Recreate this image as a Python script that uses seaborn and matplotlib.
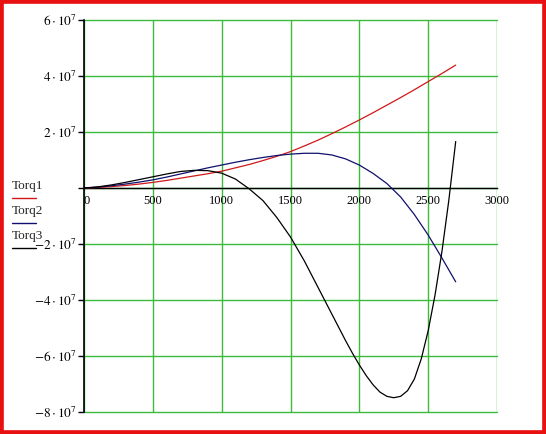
import numpy as np
import pandas as pd
import matplotlib
matplotlib.use("Agg")
import matplotlib.pyplot as plt
from matplotlib.patches import Rectangle
from matplotlib.lines import Line2D
import seaborn as sns

# ---- data (values in units of 1e7) ----
rpm = list(range(0, 2800, 100))
torq1 = [0, 0.02, 0.05, 0.09, 0.14, 0.20, 0.27, 0.35, 0.43, 0.51, 0.60, 0.72, 0.84, 0.98,
         1.13, 1.30, 1.50, 1.71, 1.94, 2.18, 2.43, 2.69, 2.96, 3.23, 3.51, 3.80, 4.09, 4.39]
torq2 = [0, 0.03, 0.08, 0.14, 0.21, 0.29, 0.39, 0.50, 0.61, 0.72, 0.82, 0.92, 1.01, 1.09,
         1.16, 1.21, 1.24, 1.24, 1.18, 1.04, 0.82, 0.52, 0.16, -0.32, -0.95, -1.68, -2.50, -3.35]
rpm3 = list(range(0, 1900, 100)) + list(range(1900, 2750, 50))
torq3 = [0, 0.04, 0.11, 0.20, 0.30, 0.40, 0.50, 0.59, 0.63, 0.62, 0.53, 0.32, -0.03, -0.45,
         -1.05, -1.75, -2.6, -3.55, -4.5,
         -5.45, -5.90, -6.32, -6.70, -7.03, -7.29, -7.44, -7.49, -7.44, -7.24, -6.82,
         -6.10, -5.10, -3.82, -2.27, -0.44, 1.66]
series_names = ["Torq1", "Torq2", "Torq3"]
x_ticks = [0, 500, 1000, 1500, 2000, 2500, 3000]
y_ticks = [6, 4, 2, 0, -2, -4, -6, -8]
colors = {"Torq1": "#d01818", "Torq2": "#10106e", "Torq3": "#000000"}

df = pd.concat([
    pd.DataFrame({"x": rpm, "y": np.array(torq1) * 1e7, "s": "Torq1"}),
    pd.DataFrame({"x": rpm, "y": np.array(torq2) * 1e7, "s": "Torq2"}),
    pd.DataFrame({"x": rpm3, "y": np.array(torq3) * 1e7, "s": "Torq3"}),
], ignore_index=True)

sns.set_style("white")
plt.rcParams["font.family"] = ["Liberation Serif", "DejaVu Serif"]
plt.rcParams["mathtext.fontset"] = "stix"

W, H = 546, 434
fig = plt.figure(figsize=(W / 100, H / 100), dpi=100)
ax = fig.add_axes([84 / W, (H - 412) / H, (497 - 84) / W, (412 - 20) / H])

sns.lineplot(data=df, x="x", y="y", hue="s", palette=colors, legend=False,
             estimator=None, sort=False, lw=0.9, ax=ax, zorder=5)

ax.set_xlim(0, 3000)
ax.set_ylim(-8e7, 6e7)
ax.set_xlabel("")
ax.set_ylabel("")

grid_c = "#3cbc3c"
ax.set_xticks(x_ticks)
ax.set_xticklabels([str(v) for v in x_ticks])
ax.set_yticks([v * 1e7 for v in y_ticks])
ylabels = []
for v in y_ticks:
    if v == 0:
        ylabels.append("")
    elif v < 0:
        ylabels.append(r"${-}%d\cdot 10^{7}$" % (-v))
    else:
        ylabels.append(r"$%d\cdot 10^{7}$" % v)
ax.set_yticklabels(ylabels)
ax.grid(True, color=grid_c, lw=1.0)
for l in ax.get_xgridlines() + ax.get_ygridlines():
    l.set_clip_on(False)

ax.spines["bottom"].set_position(("data", 0))
ax.spines["bottom"].set_color("black")
ax.spines["bottom"].set_linewidth(1.0)
ax.spines["bottom"].set_zorder(4)
ax.spines["left"].set_color("black")
ax.spines["left"].set_linewidth(1.2)
ax.spines["left"].set_zorder(6)
ax.spines["top"].set_visible(False)
ax.spines["right"].set_visible(False)

ax.tick_params(axis="x", length=0, pad=5, labelsize=9, colors="black")
ax.tick_params(axis="y", length=4, width=1, pad=1, labelsize=9.5, colors="black", direction="out", left=True)
xl = ax.get_xticklabels()
xl[0].set_ha("left")

# legend on the left
leg_y = [186, 211, 236]
for name, yy in zip(series_names, leg_y):
    fig.text(12 / W, 1 - yy / H, name, fontsize=9.5, ha="left", va="center")
    fig.add_artist(Line2D([12 / W, 36 / W], [1 - (yy + 12) / H] * 2,
                          color=colors[name], lw=1.0, transform=fig.transFigure))

# red frame
fig.patches.append(Rectangle((0, 0), 1, 1, transform=fig.transFigure, fill=False,
                             edgecolor="#e81010", lw=5.5, zorder=10))

fig.savefig("out.png", dpi=100, facecolor="white")
